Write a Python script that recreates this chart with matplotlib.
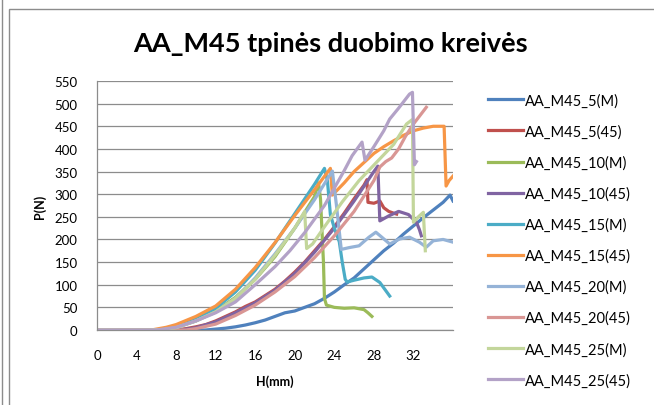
import matplotlib
matplotlib.use('Agg')
import matplotlib.pyplot as plt
from matplotlib.patches import Rectangle
from matplotlib.lines import Line2D

plt.rcParams['font.family'] = ['Lato', 'DejaVu Sans']

# Dados (H em mm, P em N)
nomes = ['AA_M45_5(M)', 'AA_M45_5(45)', 'AA_M45_10(M)', 'AA_M45_10(45)', 'AA_M45_15(M)',
         'AA_M45_15(45)', 'AA_M45_20(M)', 'AA_M45_20(45)', 'AA_M45_25(M)', 'AA_M45_25(45)']
cores = ['#4F81BD', '#C0504D', '#9BBB59', '#8064A2', '#4BACC6',
         '#F79646', '#95B3D7', '#D99694', '#C3D69B', '#B3A2C7']

h_5m = [0, 11, 12, 13, 14, 15, 16, 17, 18, 19, 20, 21, 22, 23, 24, 25, 26, 27, 28, 29, 30, 31, 32, 33, 34, 35, 35.7, 36]
p_5m = [0, 0, 2, 4, 7, 11, 16, 22, 30, 38, 42, 50, 58, 70, 84, 100, 115, 135, 155, 175, 192, 212, 230, 248, 265, 282, 298, 285]

h_5_45 = [0, 8, 9, 10, 11, 12, 13, 14, 15, 16, 17, 18, 19, 20, 21, 22, 23, 24, 25, 26, 27, 27.3, 27.4, 28, 28.6, 29, 29.5, 30, 30.3]
p_5_45 = [0, 0, 3, 7, 12, 20, 30, 40, 52, 62, 76, 90, 108, 128, 150, 175, 200, 228, 258, 290, 320, 332, 282, 280, 285, 270, 262, 258, 256]

h_10m = [0, 6.5, 8, 10, 12, 14, 16, 18, 20, 22, 22.4, 22.6, 22.9, 23.0, 23.2, 24, 25, 26, 27, 27.4, 27.8]
p_10m = [0, 0, 6, 20, 42, 72, 112, 162, 225, 295, 325, 290, 150, 70, 55, 50, 48, 49, 45, 38, 30]

h_10_45 = [0, 8.5, 10, 12, 14, 16, 18, 20, 22, 24, 26, 28, 28.4, 28.6, 29.5, 30.5, 31.5, 32.3, 32.6, 32.8]
p_10_45 = [0, 0, 5, 18, 38, 60, 88, 125, 172, 225, 285, 350, 362, 241, 252, 262, 255, 238, 222, 208]

h_15m = [0, 6, 8, 10, 12, 14, 16, 18, 20, 22, 23.0, 23.3, 23.6, 24.0, 24.5, 24.8, 25.1, 25.3, 26, 27, 27.8, 28.6, 29.6]
p_15m = [0, 0, 8, 25, 48, 84, 132, 192, 257, 322, 357, 330, 255, 225, 195, 150, 112, 106, 110, 115, 117, 105, 75]

h_15_45 = [0, 5.5, 7, 8, 10, 12, 14, 16, 18, 20, 22, 23.6, 23.8, 25, 26, 27, 28, 29, 30, 31, 32, 33, 34, 35.1, 35.3, 35.6, 36]
p_15_45 = [0, 0, 6, 12, 30, 53, 90, 138, 193, 253, 310, 357, 298, 325, 350, 370, 390, 405, 418, 430, 440, 446, 450, 450, 318, 330, 340]

h_20m = [0, 6.5, 8, 10, 12, 14, 16, 18, 20, 22, 23.8, 24.2, 24.7, 25.5, 26.5, 27.5, 28.2, 28.8, 29.6, 30.6, 31.6, 32.6, 33.3, 34, 35, 36]
p_20m = [0, 0, 5, 20, 40, 70, 115, 168, 225, 288, 351, 278, 178, 182, 186, 205, 216, 205, 190, 201, 205, 194, 183, 197, 200, 194]

h_20_45 = [0, 9, 10, 12, 14, 16, 18, 20, 22, 24, 26, 28, 28.6, 29.2, 29.8, 30.5, 31.2, 32, 32.6, 33.3]
p_20_45 = [0, 0, 3, 13, 32, 55, 84, 118, 160, 208, 262, 330, 360, 372, 380, 400, 428, 455, 472, 492]

h_25m = [0, 6.5, 8, 10, 12, 14, 16, 18, 20, 21, 21.2, 21.8, 23, 24.8, 26.5, 28.6, 30, 31.3, 31.9, 32.0, 32.5, 33.0, 33.2]
p_25m = [0, 0, 5, 20, 40, 70, 112, 165, 225, 262, 180, 190, 228, 283, 330, 378, 410, 455, 465, 238, 250, 260, 175]

h_25_45 = [0, 6, 8, 10, 12, 14, 16, 18, 19.5, 21, 23, 25, 25.8, 26.8, 27.1, 28, 29, 29.6, 30.5, 31.6, 31.9, 32.1, 32.3]
p_25_45 = [0, 0, 6, 20, 38, 62, 100, 140, 175, 215, 275, 352, 385, 415, 375, 405, 440, 466, 490, 521, 525, 365, 372]

series_h = [h_5m, h_5_45, h_10m, h_10_45, h_15m, h_15_45, h_20m, h_20_45, h_25m, h_25_45]
series_p = [p_5m, p_5_45, p_10m, p_10_45, p_15m, p_15_45, p_20m, p_20_45, p_25m, p_25_45]

fig = plt.figure(figsize=(6.54, 4.06), dpi=100)
ax = fig.add_axes([97/654, 1 - 331/406, 356/654, 249/406])

# moldura do grafico
fig.patches.append(Rectangle((9/654, -0.1), 1.2, 1 - 10/406 + 0.1, transform=fig.transFigure,
                             fill=False, edgecolor='#8c8c8c', linewidth=1.0))
fig.add_artist(Line2D([2/654, 2/654], [0, 1], transform=fig.transFigure, color='#8c8c8c', linewidth=1.0))

for h, p, c, n in zip(series_h, series_p, cores, nomes):
    ax.plot(h, p, color=c, linewidth=2.3, label=n, solid_joinstyle='round')

ax.set_xlim(0, 36)
ax.set_ylim(0, 550)
ax.set_xticks(range(0, 33, 4))
ax.set_yticks(range(0, 551, 50))
ax.tick_params(length=0, labelsize=9.5, colors='black')
ax.tick_params(axis='y', pad=14)
ax.tick_params(axis='x', pad=14)
ax.grid(True, axis='y', color='#8c8c8c', linewidth=0.9)
ax.set_axisbelow(True)
for s in ['top', 'right']:
    ax.spines[s].set_visible(False)
for s in ['left', 'bottom']:
    ax.spines[s].set_color('#8c8c8c')
    ax.spines[s].set_linewidth(0.9)

ax.set_xlabel('H(mm)', fontsize=9, fontweight='bold', labelpad=9)
ax.set_ylabel('P(N)', fontsize=9, fontweight='bold', labelpad=6)
fig.text(330/654, 1 - 44/406, 'AA_M45 tpinės duobimo kreivės', fontsize=19.5, fontweight='bold',
         ha='center', va='center')

ax.legend(loc='upper left', bbox_to_anchor=(385/356, 0.975), frameon=False, fontsize=10.5,
          handlelength=2.4, handletextpad=0.15, labelspacing=1.15, borderaxespad=0)

fig.savefig('out.png', dpi=100)
